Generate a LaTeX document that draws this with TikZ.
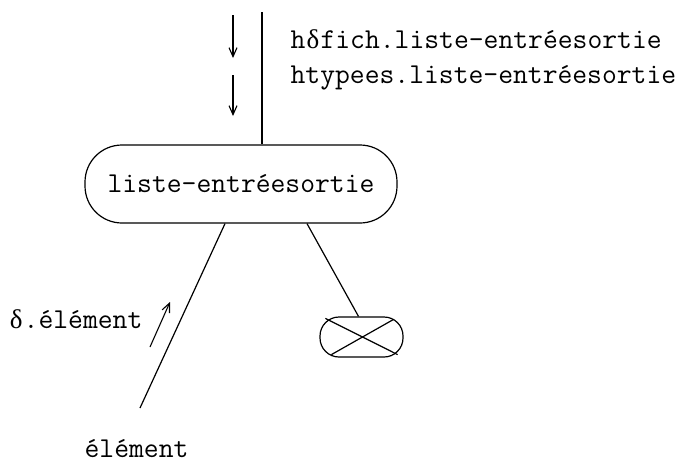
\documentclass[tikz,border=0pt]{standalone}
\usepackage{fontspec}
\newfontfamily\greekfont{Liberation Serif}
\newcommand{\mydelta}{\makebox[15.1pt]{\greekfont\fontsize{27}{30}\selectfont δ}}
\usetikzlibrary{arrows.meta}
\begin{document}
\begin{tikzpicture}[x=1pt,y=-1pt,line width=1.2pt,
  txt/.style={font=\ttfamily\fontsize{28.8}{34}\selectfont, inner sep=0pt},
  bigbox/.style={draw, rounded corners=37pt, minimum width=312pt, minimum height=78pt, inner sep=0pt, txt},
  nulbox/.style={draw, rounded corners=19pt, minimum width=83pt, minimum height=40pt, inner sep=0pt},
  flow/.style={line width=1.1pt, -{Straight Barb[length=9pt,width=8pt]}}]
\useasboundingbox (0,0) rectangle (692,463);
% main node
\node[bigbox] (le) at (241,184) {liste-entréesortie};
% incoming vertical connector
\coordinate (top) at (262,12);
\draw (top) -- (top |- le.north);
% attribute labels
\node[txt, anchor=base west] (h1) at (290,48) {h\mydelta fich.liste-entréesortie};
\node[txt, anchor=base west] (h2) at (290,83) {htypees.liste-entréesortie};
% flow arrows
\coordinate (f1s) at (233,15); \coordinate (f1e) at (233,58);
\coordinate (f2s) at (233,75); \coordinate (f2e) at (233,116);
\draw[flow] (f1s) -- (f1e);
\draw[flow] (f2s) -- (f2e);
% left branch
\coordinate (e1) at (140,408);
\draw ([xshift=-16pt]le.south) -- (e1);
\node[txt, anchor=base] (el) at (136.5,457) {élément};
% synthesised attribute
\node[txt, anchor=base] (delta) at (75.5,328) {\mydelta.élément};
\coordinate (a1) at (150,347); \coordinate (a2) at (170,302);
\draw[flow] (a1) -- (a2);
% right branch to empty node
\node[nulbox] (nul) at (361.5,337) {};
\draw ([xshift=66pt]le.south) -- ([xshift=-3pt]nul.north);
\draw ([shift={(6,2)}]nul.north west) -- ([shift={(-6,-3)}]nul.south east);
\draw ([shift={(12,-3)}]nul.south west) -- ([shift={(-10,3)}]nul.north east);
\end{tikzpicture}
\end{document}
